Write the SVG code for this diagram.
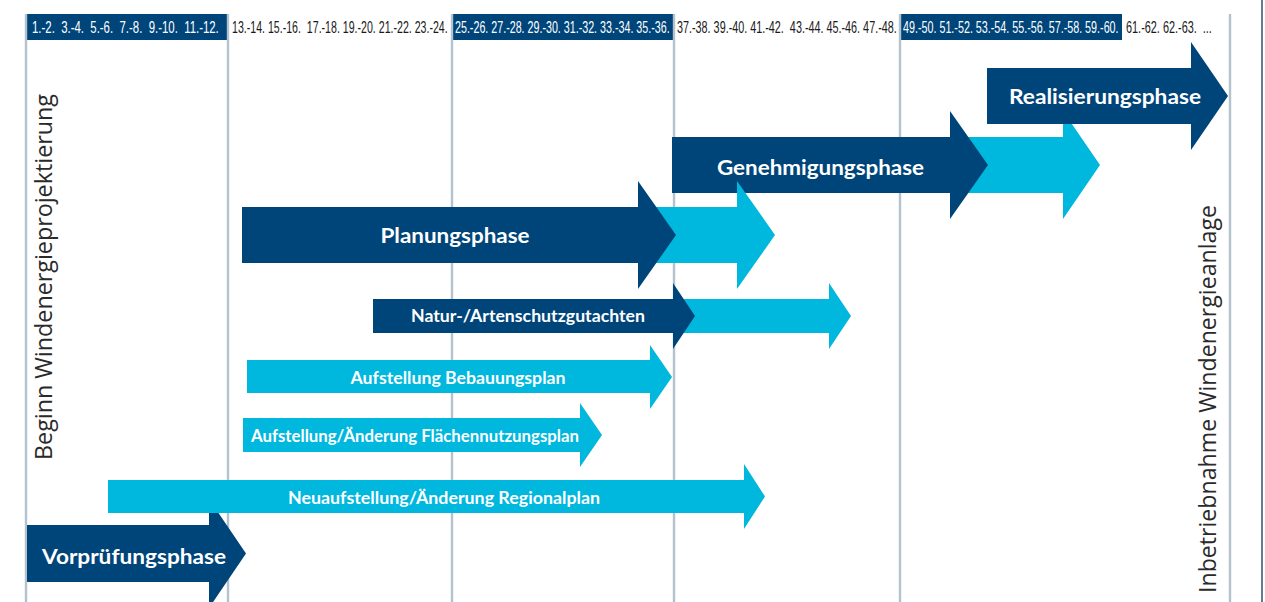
<svg xmlns="http://www.w3.org/2000/svg" width="1265" height="602" viewBox="0 0 1265 602">
<style>
.navy{fill:#00457A}
.cyan{fill:#00B7DE}
.grid{stroke:#B3C2CC;stroke-width:2.4}
.hw{font-family:"Liberation Sans",Arial,sans-serif;font-size:16.5px;fill:#ffffff}
.hd{font-family:"Liberation Sans",Arial,sans-serif;font-size:16.5px;fill:#1a1a1a}
.big{font-family:Lato,"Noto Sans",sans-serif;font-weight:bold;font-size:21.5px;fill:#ffffff;text-anchor:middle}
.small{font-family:Lato,"Noto Sans",sans-serif;font-weight:bold;font-size:16.5px;fill:#ffffff;text-anchor:middle}
.vert{font-family:"Open Sans","Noto Sans",sans-serif;font-size:23.5px;fill:#2a2a2a;text-anchor:middle}
</style>
<rect x="0" y="0" width="1265" height="602" fill="#ffffff"/>
<g id="header">
<rect class="navy" x="26" y="14" width="202" height="26"/>
<rect class="navy" x="452" y="14" width="222" height="26"/>
<rect class="navy" x="900" y="14" width="222" height="26"/>
<text class="hw" transform="matrix(0.692 0 0 1 32 32.5)" xml:space="preserve">1.-2.  3.-4.  5.-6.  7.-8.  9.-10.  11.-12.</text>
<text class="hd" transform="matrix(0.643 0 0 1 232 32.5)" xml:space="preserve">13.-14. 15.-16.  17.-18. 19.-20. 21.-22. 23.-24.</text>
<text class="hw" transform="matrix(0.649 0 0 1 455 32.5)" xml:space="preserve">25.-26. 27.-28. 29.-30. 31.-32. 33.-34. 35.-36.</text>
<text class="hd" transform="matrix(0.655 0 0 1 677 32.5)" xml:space="preserve">37.-38. 39.-40. 41.-42.  43.-44. 45.-46. 47.-48.</text>
<text class="hw" transform="matrix(0.652 0 0 1 903 32.5)" xml:space="preserve">49.-50. 51.-52. 53.-54. 55.-56. 57.-58. 59.-60.</text>
<text class="hd" transform="matrix(0.66 0 0 1 1126 32.5)" xml:space="preserve">61.-62. 62.-63.  ...</text>
</g>
<g id="grid">
<line class="grid" x1="26" y1="14" x2="26" y2="602"/>
<line class="grid" x1="228" y1="14" x2="228" y2="602"/>
<line class="grid" x1="452" y1="14" x2="452" y2="602"/>
<line class="grid" x1="674" y1="14" x2="674" y2="602"/>
<line class="grid" x1="900" y1="14" x2="900" y2="602"/>
<line class="grid" x1="1230" y1="14" x2="1230" y2="602"/>
<line x1="1262" y1="0" x2="1262" y2="602" stroke="#2E4F6E" stroke-width="1.5"/>
</g>
<g id="beginn">
<text class="vert" transform="translate(52,277) rotate(-90)" textLength="366" lengthAdjust="spacingAndGlyphs">Beginn Windenergieprojektierung</text>
</g>
<g id="inbetriebnahme">
<text class="vert" transform="translate(1216,399) rotate(-90)" textLength="388" lengthAdjust="spacingAndGlyphs">Inbetriebnahme Windenergieanlage</text>
</g>
<g id="vorpruefung">
<path class="navy" d="M27,525 H209 V499 L246,553.5 L209,608 V582 H27 Z"/>
<text class="big" x="134" y="564" textLength="184" lengthAdjust="spacingAndGlyphs">Vorprüfungsphase</text>
</g>
<g id="regionalplan">
<path class="cyan" d="M108,480 H744 V464 L765,496.5 L744,529 V513 H108 Z"/>
<text class="small" x="444" y="503.5" textLength="312" lengthAdjust="spacingAndGlyphs">Neuaufstellung/Änderung Regionalplan</text>
</g>
<g id="flaechennutzungsplan">
<path class="cyan" d="M243,418 H580 V403 L602,435 L580,467 V452 H243 Z"/>
<text class="small" x="415" y="441.5" textLength="328" lengthAdjust="spacingAndGlyphs">Aufstellung/Änderung Flächennutzungsplan</text>
</g>
<g id="bebauungsplan">
<path class="cyan" d="M247,360 H650 V345 L672,377 L650,409 V393 H247 Z"/>
<text class="small" x="458" y="383.5" textLength="215" lengthAdjust="spacingAndGlyphs">Aufstellung Bebauungsplan</text>
</g>
<g id="naturschutz">
<path class="cyan" d="M665,299 H829 V283 L851,316 L829,349 V333 H665 Z"/>
<path class="navy" d="M373,299 H673 V283 L695,316 L673,349 V333 H373 Z"/>
<text class="small" x="528" y="322" textLength="234" lengthAdjust="spacingAndGlyphs">Natur-/Artenschutzgutachten</text>
</g>
<g id="genehmigung">
<path class="cyan" d="M940,137 H1063 V111 L1100,165 L1063,219 V193 H940 Z"/>
<path class="navy" d="M672,137 H950 V111 L988,165 L950,219 V193 H672 Z"/>
<text class="big" x="820.5" y="175" textLength="207" lengthAdjust="spacingAndGlyphs">Genehmigungsphase</text>
</g>
<g id="planung">
<path class="cyan" d="M630,207 H737 V181 L775,235 L737,289 V263 H630 Z"/>
<path class="navy" d="M242,207 H638 V181 L676,235 L638,289 V263 H242 Z"/>
<text class="big" x="455" y="243" textLength="149" lengthAdjust="spacingAndGlyphs">Planungsphase</text>
</g>
<g id="realisierung">
<path class="navy" d="M987,68 H1191 V42 L1228,96 L1191,150 V124 H987 Z"/>
<text class="big" x="1105" y="103.5" textLength="192" lengthAdjust="spacingAndGlyphs">Realisierungsphase</text>
</g>
</svg>
